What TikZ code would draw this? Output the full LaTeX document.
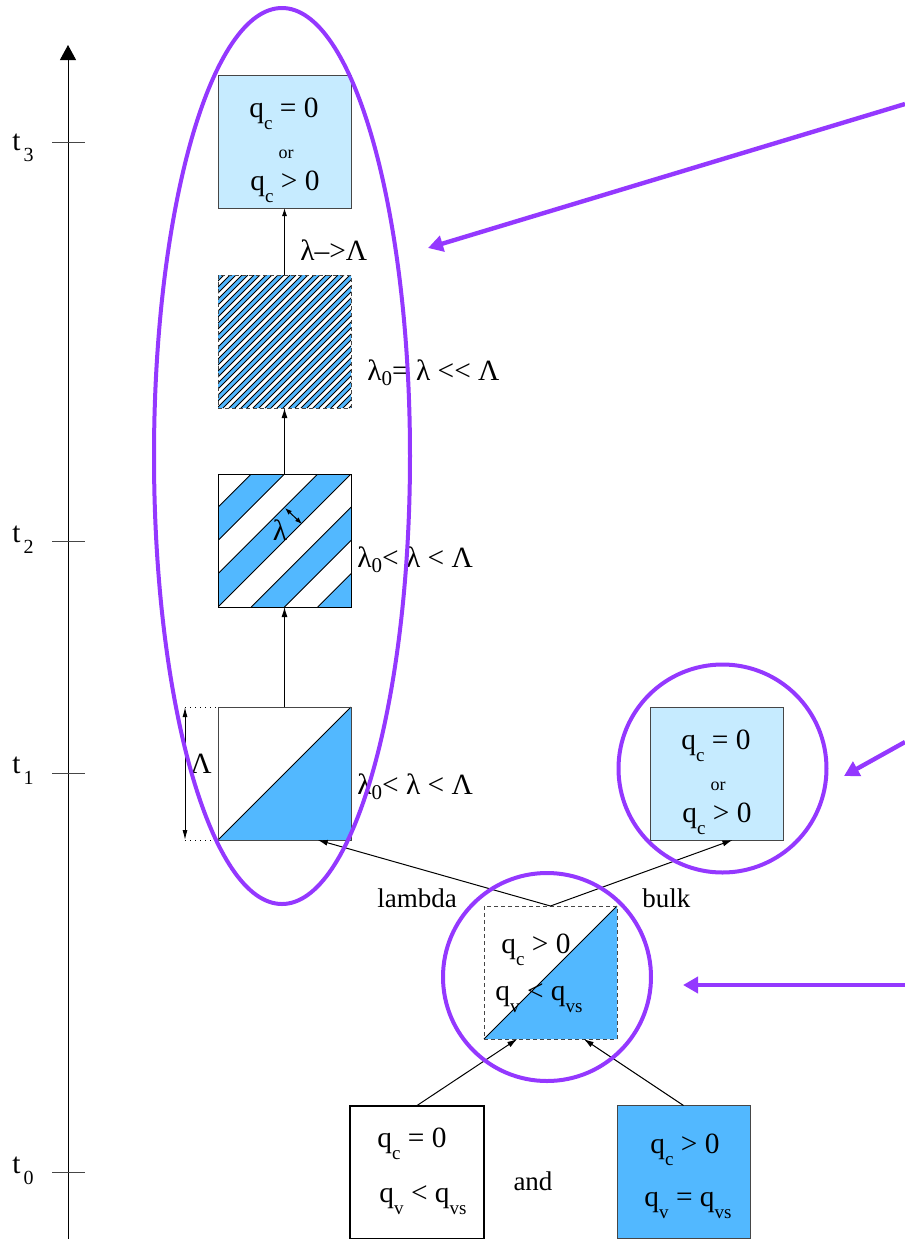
\documentclass[tikz,border=0pt]{standalone}
\usepackage{fontspec}
\setmainfont{Liberation Serif}
\usetikzlibrary{arrows.meta,calc,shapes.geometric}

\definecolor{paleblue}{RGB}{198,235,255}
\definecolor{midblue}{RGB}{82,184,255}
\definecolor{ringviolet}{RGB}{148,56,255}
\definecolor{edgegray}{RGB}{70,70,70}

% lowered subscripts in the style of the labels
\newcommand\lsub[1]{\raisebox{-0.42em}{\fontsize{9.5}{9.5}\selectfont #1}}
\newcommand\zsub{\raisebox{-0.2em}{\fontsize{10.5}{10.5}\selectfont 0}}
\newcommand\tsub[1]{\hspace{1.5pt}\raisebox{-5.5pt}{\fontsize{10}{10}\selectfont #1}}

\begin{document}
\begin{tikzpicture}[x=0.5pt,y=-0.5pt,
  font=\fontsize{13.5}{16}\selectfont,
  box/.style={draw=edgegray, line width=0.5pt, minimum width=66.5pt,
    minimum height=66.5pt, inner sep=0pt, outer sep=0pt},
  dashbox/.style={box, dash pattern=on 2pt off 1.5pt},
  lbl/.style={anchor=base, inner sep=0pt, font=\fontsize{14.7}{17}\selectfont},
  lblw/.style={anchor=base west, inner sep=0pt, font=\fontsize{14.7}{17}\selectfont},
  word/.style={anchor=base west, inner sep=0pt},
  orlbl/.style={anchor=base, inner sep=0pt, font=\fontsize{9}{10}\selectfont},
  conn/.style={line width=0.5pt, -{Latex[length=5pt,width=3pt]}},
  stripe/.style={line width=0.45pt, black},
  ring/.style={draw=ringviolet, line width=2pt, inner sep=0pt},
  pointer/.style={ringviolet, line width=2.2pt, -{Triangle[length=7.5pt,width=8pt]}},
  tick/.style={line width=0.5pt, edgegray}]

\useasboundingbox (0,0) rectangle (905,1239);

% time axis
\coordinate (axbot) at (68,1239);
\coordinate (axtop) at (68,45);
\draw[line width=0.5pt, -{Triangle[length=7.5pt,width=8pt]}] (axbot) -- (axtop);
\foreach \ty/\n in {142/3,541/2,773/1,1172/0} {
  \coordinate (tl\n) at (52,\ty);
  \coordinate (tr\n) at (85,\ty);
  \draw[tick] (tl\n) -- (tr\n);
}
\node[lblw] (t3) at (12,150) {t\tsub{3}};
\node[lblw] (t2) at (12,542) {t\tsub{2}};
\node[lblw] (t1) at (12,773) {t\tsub{1}};
\node[lblw] (t0) at (12,1173) {t\tsub{0}};

% ---------- column of states on the left ----------
% final state
\node[box, fill=paleblue] (fin) at (284.5,141.5) {};
\node[lbl] (fin1) at (284,117) {q\lsub{c} = 0};
\node[orlbl] (fin2) at (286,158) {or};
\node[lbl] (fin3) at (285,190) {q\lsub{c} > 0};

% fine stripes
\begin{scope}
  \clip (218,275) rectangle (351,408);
  \foreach \k in {0,...,22} {
    \pgfmathsetmacro\a{493+12*\k}
    \pgfmathsetmacro\b{\a+6}
    \fill[midblue] (\a-275,275) -- (\b-275,275) -- (\b-408,408) -- (\a-408,408) -- cycle;
    \draw[stripe] (\a-275,275) -- (\a-408,408) (\b-275,275) -- (\b-408,408);
  }
\end{scope}
\node[dashbox] (fine) at (284.5,341.5) {};

% wide stripes
\begin{scope}
  \clip (218,474) rectangle (351,607);
  \foreach \k in {1,3,5,7} {
    \pgfmathsetmacro\a{692+33.25*\k}
    \pgfmathsetmacro\b{\a+33.25}
    \fill[midblue] (\a-474,474) -- (\b-474,474) -- (\b-607,607) -- (\a-607,607) -- cycle;
  }
  \foreach \k in {1,...,7} {
    \pgfmathsetmacro\a{692+33.25*\k}
    \draw[stripe] (\a-474,474) -- (\a-607,607);
  }
\end{scope}
\node[box, draw=black] (wide) at (284.5,540.5) {};
\coordinate (wa) at (285,508);
\coordinate (wb) at (302,524);
\draw[line width=0.5pt, {Latex[length=3.5pt,width=2.5pt]}-{Latex[length=3.5pt,width=2.5pt]}] (wa) -- (wb);
\node[lbl] (lamin) at (280,540) {λ};

% single interface
\fill[midblue] (218,840) -- (351,707) -- (351,840) -- cycle;
\draw[stripe] (218,840) -- (351,707);
\node[box] (half) at (284.5,773.5) {};

% vertical size marker
\coordinate (dt) at (185,707);
\coordinate (db) at (185,840);
\draw[line width=0.5pt, dotted] (dt) -- (half.north west);
\draw[line width=0.5pt, dotted] (db) -- (half.south west);
\draw[line width=0.5pt, {Latex[length=5pt,width=2.5pt]}-{Latex[length=5pt,width=2.5pt]}] (dt) -- (db);
\node[lbl] (biglam) at (201,773) {Λ};

% transitions up the column
\draw[conn] (half.north) -- (wide.south);
\draw[conn] (wide.north) -- (fine.south);
\draw[conn, -{Latex[length=4pt,width=2.5pt]}] (fine.north) -- (fin.south);

\node[lblw] (l3) at (300,260) {λ\textendash>Λ};
\node[lblw] (l2) at (367,380) {λ\zsub= λ <{}< Λ};
\node[lblw] (l1) at (357,567) {λ\zsub< λ < Λ};
\node[lblw] (l0) at (357,794) {λ\zsub< λ < Λ};

% ---------- bulk branch ----------
\node[box, fill=paleblue] (bulkbox) at (716.5,773.5) {};
\node[lbl] (bk1) at (716,749) {q\lsub{c} = 0};
\node[orlbl] (bk2) at (718,790) {or};
\node[lbl] (bk3) at (717,822) {q\lsub{c} > 0};

% ---------- mixed initial state ----------
\fill[midblue] (484,1039) -- (617,906) -- (617,1039) -- cycle;
\draw[stripe] (484,1039) -- (617,906);
\node[dashbox] (mix) at (550.5,972.5) {};
\node[lbl] (mx1) at (536,953) {q\lsub{c} > 0};
\node[lbl] (mx2) at (539,1000) {q\lsub{v} < q\lsub{vs}};

\draw[conn] (mix.north) -- ($(half.south west)!0.75!(half.south east)$);
\draw[conn] (mix.north) -- ($(bulkbox.south west)!0.62!(bulkbox.south east)$);
\node[word] (lamlbl) at (377,907) {lambda};
\node[word] (bulklbl) at (642,907) {bulk};

% ---------- two source parcels ----------
\node[box, draw=black, line width=1pt, minimum width=67pt] (dry) at (417,1172) {};
\node[lbl] (dr1) at (412,1147) {q\lsub{c} = 0};
\node[lbl] (dr2) at (423,1202) {q\lsub{v} < q\lsub{vs}};
\node[word, anchor=base] (andlbl) at (533,1190) {and};
\node[box, fill=midblue] (wet) at (683.5,1172) {};
\node[lbl] (wt1) at (685,1153) {q\lsub{c} > 0};
\node[lbl] (wt2) at (688,1206) {q\lsub{v} = q\lsub{vs}};

\draw[conn] (dry.north) -- ($(mix.south west)!0.25!(mix.south east)$);
\draw[conn] (wet.north) -- ($(mix.south west)!0.75!(mix.south east)$);

% ---------- highlight rings and pointers ----------
\node[ring, ellipse, minimum width=128pt, minimum height=448pt] (ringA) at (282,456) {};
\node[ring, circle, minimum size=104pt] (ringB) at (722.5,768.5) {};
\node[ring, circle, minimum size=104pt] (ringC) at (547,977) {};

\coordinate (pa0) at (905,104);
\coordinate (pa1) at (428,248);
\coordinate (pb0) at (905,742);
\coordinate (pb1) at (844,776);
\coordinate (pc0) at (905,985);
\coordinate (pc1) at (683,985);
\draw[pointer] (pa0) -- (pa1);
\draw[pointer] (pb0) -- (pb1);
\draw[pointer] (pc0) -- (pc1);

\end{tikzpicture}
\end{document}
